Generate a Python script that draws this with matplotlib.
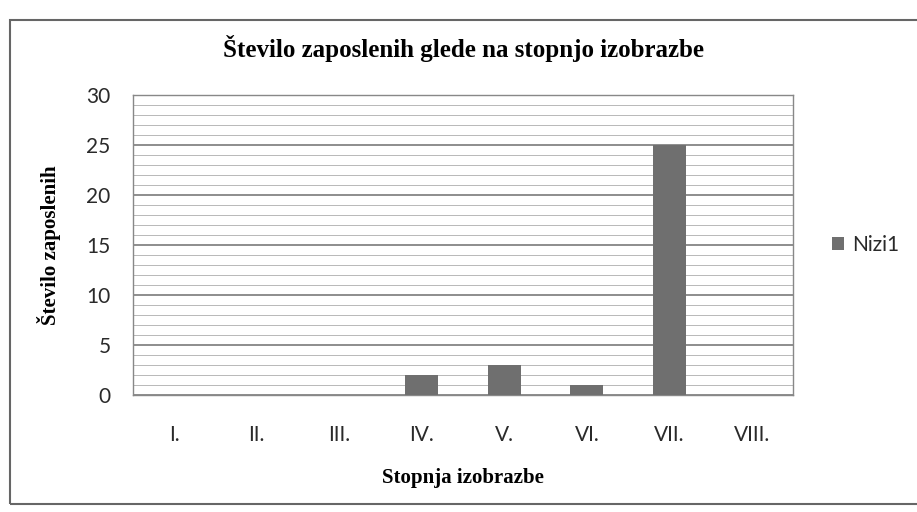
import numpy as np
import matplotlib.pyplot as plt
from matplotlib.patches import Rectangle

# podatki
stopnje = ['I.', 'II.', 'III.', 'IV.', 'V.', 'VI.', 'VII.', 'VIII.']
zaposleni = [0, 0, 0, 2, 3, 1, 25, 0]
serija = 'Nizi1'

serif = 'Liberation Serif'
sans = 'Lato'

fig = plt.figure(figsize=(9.17, 5.12), dpi=100)
ax = fig.add_axes([0.145, 0.229, 0.72, 0.586])

x = np.arange(len(stopnje))
ax.bar(x, zaposleni, width=0.4, color='#6f6f6f', label=serija, zorder=3)

ax.set_xlim(-0.5, len(stopnje) - 0.5)
ax.set_ylim(0, 30)
ax.set_yticks(np.arange(0, 31, 5))
ax.set_yticks(np.arange(0, 31, 1), minor=True)
ax.grid(True, axis='y', which='minor', color='#b8b8b8', lw=0.7, zorder=0)
ax.grid(True, axis='y', which='major', color='#7a7a7a', lw=1.2, zorder=1)
ax.set_xticks(x)
ax.set_xticklabels(stopnje, fontfamily=sans, fontsize=15, color='#2a2a2a')
ax.tick_params(axis='x', length=0, pad=22)
ax.tick_params(axis='y', which='both', length=0, pad=16)
for t in ax.get_yticklabels():
    t.set_fontfamily(sans)
    t.set_fontsize(15)
    t.set_color('#2a2a2a')
for s in ax.spines.values():
    s.set_color('#888888')
    s.set_linewidth(1)

ax.set_ylabel('Število zaposlenih', fontfamily=serif, fontweight='bold',
              fontsize=15, labelpad=18)
ax.set_xlabel('Stopnja izobrazbe', fontfamily=serif, fontweight='bold',
              fontsize=15, labelpad=16)
fig.text(0.505, 0.905, 'Število zaposlenih glede na stopnjo izobrazbe',
         fontfamily=serif, fontweight='bold', fontsize=18, ha='center', va='center')

leg = ax.legend(loc='center left', bbox_to_anchor=(1.03, 0.5), frameon=False,
                handlelength=0.6, handleheight=0.6, handletextpad=0.4,
                prop={'family': sans, 'size': 15})
for t in leg.get_texts():
    t.set_color('#2a2a2a')

# okvir grafikona
fig.patches.append(Rectangle((0.011, 0.015), 1.1, 0.945, transform=fig.transFigure,
                             fill=False, edgecolor='#666666', lw=1.5))

fig.savefig('out.png', dpi=100)
